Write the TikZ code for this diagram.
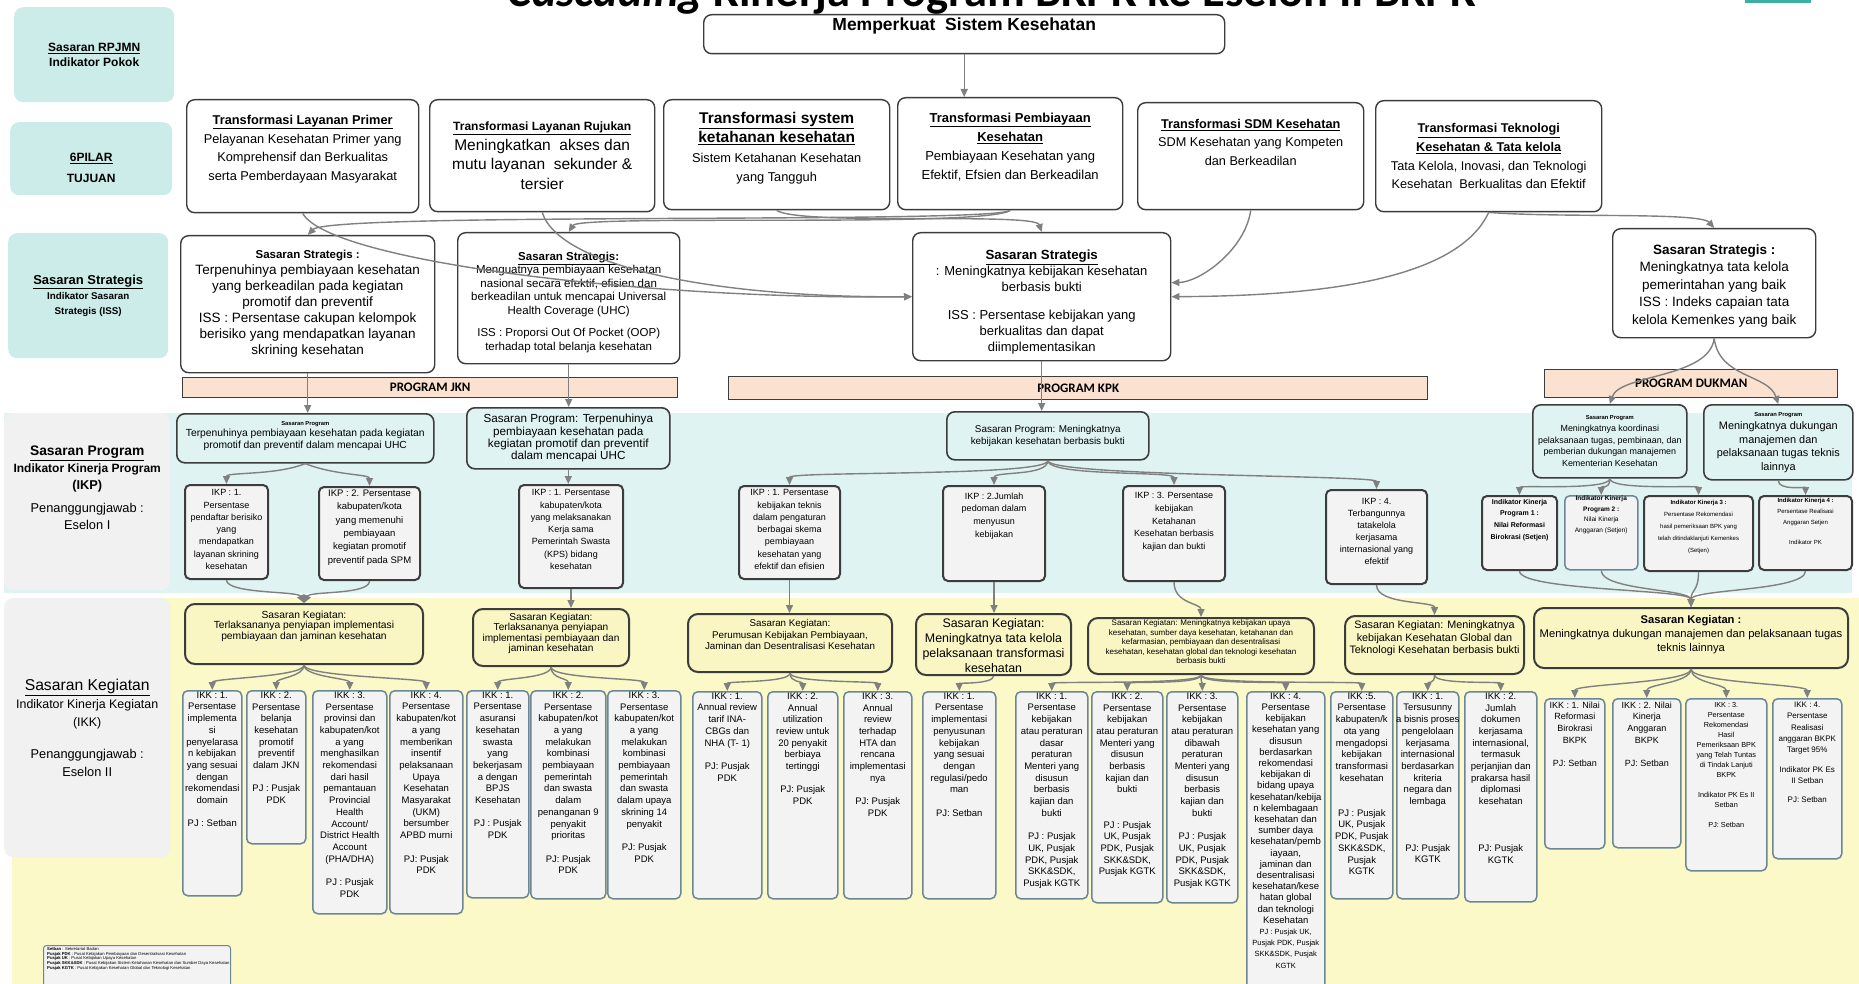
\documentclass[tikz,border=0pt]{standalone}
\usepackage{fontspec}
\setmainfont{Liberation Sans}
\newfontfamily\calib{Carlito}
\usetikzlibrary{arrows.meta}
\definecolor{labteal}{RGB}{204,236,234}
\definecolor{bandteal}{RGB}{224,243,243}
\definecolor{labgrey}{RGB}{241,241,241}
\definecolor{bandyellow}{RGB}{250,249,199}
\definecolor{kegyellow}{RGB}{249,246,196}
\definecolor{peach}{RGB}{251,226,208}
\definecolor{cellgrey}{RGB}{243,243,243}
\definecolor{boxline}{RGB}{60,60,60}
\definecolor{ikkline}{RGB}{108,134,150}
\definecolor{linegrey}{RGB}{128,128,128}
\definecolor{barteal}{RGB}{60,176,160}

\begin{document}
\begin{tikzpicture}[x=1pt,y=-1pt,
    lab/.style={fill=labteal,rounded corners=9pt,anchor=north west,inner sep=0pt},
    greylab/.style={fill=labgrey,rounded corners=9pt,anchor=north west,inner sep=0pt},
    pilar/.style={draw=boxline,line width=1.4pt,fill=white,rounded corners=8pt,anchor=north west,inner sep=0pt},
    prog/.style={draw=boxline,line width=1.4pt,fill=peach,anchor=north west,inner sep=0pt,font=\calib\bfseries\fontsize{13}{14}\selectfont},
    sprog/.style={draw=boxline,line width=1.6pt,fill=bandteal,rounded corners=8pt,anchor=north west,inner sep=0pt},
    ikp/.style={draw=boxline,line width=2pt,fill=cellgrey,rounded corners=5pt,anchor=north west,inner sep=0pt},
    keg/.style={draw=boxline,line width=2pt,fill=kegyellow,rounded corners=10pt,anchor=north west,inner sep=0pt},
    ikk/.style={draw=ikkline,line width=1.5pt,fill=cellgrey,rounded corners=5pt,anchor=north west,inner sep=0pt},
    txt/.style={anchor=center,align=center,inner sep=0pt},
    toptxt/.style={anchor=north,align=center,inner sep=0pt},
    ikpt/.style={toptxt,font=\fontsize{9}{12.3}\selectfont},
    ikkt/.style={toptxt,yshift=-1.5pt,font=\fontsize{9.5}{11.7}\selectfont},
    link/.style={draw=linegrey,line width=1.4pt,-{Triangle[length=8pt,width=7pt]}}
  ]
    \path[use as bounding box,clip] (0,0) rectangle (1859,984);
    \fill[white] (0,0) rectangle (1859,984);

    %judul
    \node[anchor=base,inner sep=0pt,font=\calib\bfseries\fontsize{46.5}{50}\selectfont] (judul) at (992,7) {\textit{Cascading} Kinerja Program BKPK ke Eselon II BKPK};
    \fill[barteal] (1745,0) rectangle (1811,3);

    %pita
    \fill[bandteal] (4,413) rectangle (1852,593);
    \fill[bandyellow] (12,598) rectangle (1859,984);

    %label kiri
    \node[lab,minimum width=160pt,minimum height=95pt] (rpjmn) at (14,7) {};
    \node[txt,font=\bfseries\fontsize{12}{15}\selectfont] (rpjmnt) at (rpjmn.center) {\underline{Sasaran RPJMN}\\Indikator Pokok};
    \node[lab,minimum width=162pt,minimum height=73pt] (pilar) at (10,122) {};
    \node[txt,yshift=-9pt,font=\bfseries\fontsize{12}{21}\selectfont] (pilart) at (pilar.center) {\underline{6PILAR}\\TUJUAN};
    \node[lab,minimum width=160pt,minimum height=125pt] (lblss) at (8,233) {};
    \node[txt,font=\bfseries\fontsize{9.8}{15}\selectfont] (lblsst) at (lblss.center) {{\fontsize{13}{15}\selectfont\underline{Sasaran Strategis}}\\Indikator Sasaran\\Strategis (ISS)};
    \node[greylab,minimum width=166pt,minimum height=177pt] (lblsp) at (4,413) {};
    \node[txt,yshift=14pt,font=\fontsize{12.8}{17}\selectfont] (lblspt) at (lblsp.center) {{\bfseries\fontsize{13.8}{17}\selectfont\underline{Sasaran Program}}\\{\bfseries\fontsize{12}{17}\selectfont Indikator Kinerja Program}\\{\bfseries (IKP)}\\[6pt]Penanggungjawab :\\Eselon I};
    \node[greylab,minimum width=166pt,minimum height=259pt] (lblsk) at (4,598) {};
    \node[txt,font=\fontsize{12.4}{18}\selectfont] (lblskt) at (lblsk.center) {{\fontsize{15.7}{18}\selectfont\underline{Sasaran Kegiatan}}\\Indikator Kinerja Kegiatan\\(IKK)\\[14pt]{\fontsize{12.8}{18}\selectfont Penanggungjawab :}\\{\fontsize{12.8}{18}\selectfont Eselon II}};

    %6 pilar
    \node[pilar,minimum width=521pt,minimum height=39pt] (kuat) at (703,14) {};
    \node[toptxt,yshift=-4pt,font=\bfseries\fontsize{17.5}{20}\selectfont] (kuatt) at (kuat.north) {Memperkuat\ \ Sistem Kesehatan};
    \node[pilar,minimum width=232pt,minimum height=113pt] (primer) at (186,99) {};
    \node[txt,yshift=7pt,font=\fontsize{12.8}{18.7}\selectfont] (primert) at (primer.center) {{\bfseries\underline{Transformasi Layanan Primer}}\\Pelayanan Kesehatan Primer yang\\Komprehensif dan Berkualitas\\serta Pemberdayaan Masyarakat};
    \node[pilar,minimum width=225pt,minimum height=112pt] (rujukan) at (429,99) {};
    \node[txt,font=\fontsize{15.5}{19.5}\selectfont] (rujukant) at (rujukan.center) {{\bfseries\fontsize{12}{19.5}\selectfont\underline{Transformasi Layanan Rujukan}}\\Meningkatkan\ \ akses dan\\mutu layanan\ \ sekunder \&\\tersier};
    \node[pilar,minimum width=226pt,minimum height=110pt] (ketahanan) at (663,99) {};
    \node[txt,yshift=6.5pt,font=\fontsize{12.8}{19.5}\selectfont] (ketahanant) at (ketahanan.center) {{\bfseries\fontsize{15.5}{19.5}\selectfont\underline{Transformasi system}}\\{\bfseries\fontsize{15.5}{19.5}\selectfont\underline{ketahanan kesehatan}}\\Sistem Ketahanan Kesehatan\\yang Tangguh};
    \node[pilar,minimum width=225pt,minimum height=112pt] (pembiayaan) at (897,97) {};
    \node[txt,yshift=6.5pt,font=\fontsize{13}{19}\selectfont] (pembiayaant) at (pembiayaan.center) {{\bfseries\underline{Transformasi Pembiayaan}}\\{\bfseries\underline{Kesehatan}}\\Pembiayaan Kesehatan yang\\Efektif, Efsien dan Berkeadilan};
    \node[pilar,minimum width=226pt,minimum height=107pt] (sdm) at (1137,102) {};
    \node[txt,yshift=14pt,font=\fontsize{12.7}{18.5}\selectfont] (sdmt) at (sdm.center) {{\bfseries\underline{Transformasi SDM Kesehatan}}\\SDM Kesehatan yang Kompeten\\dan Berkeadilan};
    \node[pilar,minimum width=226pt,minimum height=111pt] (teknologi) at (1375,100) {};
    \node[txt,font=\fontsize{12.7}{18.7}\selectfont] (teknologit) at (teknologi.center) {{\bfseries\underline{Transformasi Teknologi}}\\{\bfseries\underline{Kesehatan \& Tata kelola}}\\Tata Kelola, Inovasi, dan Teknologi\\Kesehatan\ \ Berkualitas dan Efektif};

    %sasaran strategis
    \node[pilar,minimum width=254pt,minimum height=137pt] (ss1) at (180,235) {};
    \node[txt,font=\fontsize{13.5}{16}\selectfont] (ss1t) at (ss1.center) {{\bfseries\fontsize{11.5}{16}\selectfont Sasaran Strategis :}\\Terpenuhinya pembiayaan kesehatan\\yang berkeadilan pada kegiatan\\promotif dan preventif\\ISS : Persentase cakupan kelompok\\berisiko yang mendapatkan layanan\\skrining kesehatan};
    \node[pilar,minimum width=222pt,minimum height=131pt] (ss2) at (457,232) {};
    \node[txt,yshift=-4pt,font=\fontsize{11.5}{13.5}\selectfont] (ss2t) at (ss2.center) {{\bfseries\underline{Sasaran Strategis:}}\\Menguatnya pembiayaan kesehatan\\nasional secara efektif, efisien dan\\berkeadilan untuk mencapai Universal\\Health Coverage (UHC)\\[9pt]ISS : Proporsi Out Of Pocket (OOP)\\terhadap total belanja kesehatan};
    \node[pilar,minimum width=258pt,minimum height=128pt] (sskpk) at (912,232) {};
    \node[txt,yshift=-5.5pt,font=\fontsize{13}{16}\selectfont] (sskpkt) at (sskpk.center) {{\bfseries\fontsize{13.3}{16}\selectfont\underline{Sasaran Strategis}}\\: Meningkatnya kebijakan kesehatan\\berbasis bukti\\[12pt]ISS : Persentase kebijakan yang\\berkualitas dan dapat\\diimplementasikan};
    \node[pilar,minimum width=203pt,minimum height=109pt] (ssduk) at (1612,228) {};
    \node[txt,yshift=-2.5pt,font=\fontsize{13.5}{17.5}\selectfont] (ssdukt) at (ssduk.center) {{\bfseries Sasaran Strategis :}\\Meningkatnya tata kelola\\pemerintahan yang baik\\ISS : Indeks capaian tata\\kelola Kemenkes yang baik};

    %program
    \node[prog,minimum width=495pt,minimum height=20pt] (pjkn) at (182,377) {PROGRAM JKN};
    \node[prog,minimum width=699pt,minimum height=23pt] (pkpk) at (728,376) {PROGRAM KPK};
    \node[prog,minimum width=293pt,minimum height=28pt] (pduk) at (1544,369) {PROGRAM DUKMAN};

    %sasaran program
    \node[sprog,minimum width=257pt,minimum height=49pt] (spjkn1) at (176,413) {};
    \node[txt,yshift=2.5pt,font=\fontsize{10.3}{11.3}\selectfont] (spjkn1t) at (spjkn1.center) {{\bfseries\fontsize{5.8}{11.3}\selectfont Sasaran Program}\\Terpenuhinya pembiayaan kesehatan pada kegiatan\\promotif dan preventif dalam mencapai UHC};
    \node[sprog,minimum width=203pt,minimum height=61pt] (spjkn2) at (466,407) {};
    \node[txt,font=\fontsize{11.7}{12.4}\selectfont] (spjkn2t) at (spjkn2.center) {Sasaran Program: Terpenuhinya\\pembiayaan kesehatan pada\\kegiatan promotif dan preventif\\dalam mencapai UHC};
    \node[sprog,minimum width=202pt,minimum height=48pt] (spkpk) at (946,411) {};
    \node[txt,font=\fontsize{9.9}{11.5}\selectfont] (spkpkt) at (spkpk.center) {Sasaran Program: Meningkatnya\\kebijakan kesehatan berbasis bukti};
    \node[sprog,minimum width=154pt,minimum height=73pt] (spduk1) at (1532,404) {};
    \node[txt,font=\fontsize{8.9}{11.7}\selectfont] (spduk1t) at (spduk1.center) {{\bfseries\fontsize{5.8}{11.7}\selectfont Sasaran Program}\\Meningkatnya koordinasi\\pelaksanaan tugas, pembinaan, dan\\pemberian dukungan manajemen\\Kementerian Kesehatan};
    \node[sprog,minimum width=149pt,minimum height=75pt] (spduk2) at (1703,404) {};
    \node[txt,font=\fontsize{10.9}{13.5}\selectfont] (spduk2t) at (spduk2.center) {{\bfseries\fontsize{5.8}{13.5}\selectfont Sasaran Program}\\Meningkatnya dukungan\\manajemen dan\\pelaksanaan tugas teknis\\lainnya};

    %IKP
    \node[ikp,minimum width=83pt,minimum height=94pt] (ikpjkn1) at (184,484) {};
    \node[ikpt,yshift=-5.4pt] (ikpjkn1t) at (ikpjkn1.north) {IKP : 1.\\Persentase\\pendaftar berisiko\\yang\\mendapatkan\\layanan skrining\\kesehatan};
    \node[ikp,minimum width=101pt,minimum height=93pt] (ikpjkn2) at (318,486) {};
    \node[ikpt,yshift=-3.4pt,font=\fontsize{9.5}{13.4}\selectfont] (ikpjkn2t) at (ikpjkn2.north) {IKP : 2. Persentase\\kabupaten/kota\\yang memenuhi\\pembiayaan\\kegiatan promotif\\preventif pada SPM};
    \node[ikp,minimum width=104pt,minimum height=103pt] (ikpjkn3) at (518,484) {};
    \node[ikpt,yshift=-5.4pt] (ikpjkn3t) at (ikpjkn3.north) {IKP : 1. Persentase\\kabupaten/kota\\yang melaksanakan\\Kerja sama\\Pemerintah Swasta\\(KPS) bidang\\kesehatan};
    \node[ikp,minimum width=101pt,minimum height=93pt] (ikpkpk1) at (738,485) {};
    \node[ikpt,yshift=-4.4pt] (ikpkpk1t) at (ikpkpk1.north) {IKP : 1. Persentase\\kebijakan teknis\\dalam pengaturan\\berbagai skema\\pembiayaan\\kesehatan yang\\efektif dan efisien};
    \node[ikp,minimum width=102pt,minimum height=95pt] (ikpkpk2) at (942,485) {};
    \node[ikpt,yshift=-7.4pt,font=\fontsize{9}{12.7}\selectfont] (ikpkpk2t) at (ikpkpk2.north) {IKP : 2.Jumlah\\pedoman dalam\\menyusun\\kebijakan};
    \node[ikp,minimum width=102pt,minimum height=95pt] (ikpkpk3) at (1122,485) {};
    \node[ikpt,yshift=-7.4pt,font=\fontsize{9}{12.7}\selectfont] (ikpkpk3t) at (ikpkpk3.north) {IKP : 3. Persentase\\kebijakan\\Ketahanan\\Kesehatan berbasis\\kajian dan bukti};
    \node[ikp,minimum width=101pt,minimum height=94pt] (ikpkpk4) at (1325,489) {};
    \node[ikpt,yshift=-9.4pt,font=\fontsize{9}{12}\selectfont] (ikpkpk4t) at (ikpkpk4.north) {IKP : 4.\\Terbangunnya\\tatakelola\\kerjasama\\internasional yang\\efektif};
    \node[ikp,minimum width=75pt,minimum height=74pt] (ikpduk1) at (1481,495) {};
    \node[ikpt,yshift=-4pt,font=\fontsize{7}{11.7}\selectfont] (ikpduk1t) at (ikpduk1.north) {\textbf{Indikator Kinerja}\\\textbf{Program 1 :}\\\textbf{Nilai Reformasi}\\\textbf{Birokrasi (Setjen)}};
    \node[ikp,draw=ikkline,line width=1.5pt,minimum width=73pt,minimum height=74pt] (ikpduk2) at (1564,495) {};
    \node[ikpt,yshift=-1pt,font=\fontsize{6.5}{10.5}\selectfont] (ikpduk2t) at (ikpduk2.north) {\textbf{Indikator Kinerja}\\\textbf{Program 2 :}\\Nilai Kinerja\\Anggaran (Setjen)};
    \node[ikp,minimum width=109pt,minimum height=75pt] (ikpduk3) at (1643,495) {};
    \node[ikpt,yshift=-4.6pt,font=\fontsize{6}{12}\selectfont] (ikpduk3t) at (ikpduk3.north) {\textbf{Indikator Kinerja 3 :}\\Persentase Rekomendasi\\hasil pemeriksaan BPK yang\\telah ditindaklanjuti Kemenkes\\(Setjen)};
    \node[ikp,minimum width=93pt,minimum height=74pt] (ikpduk4) at (1758,495) {};
    \node[ikpt,yshift=-2.6pt,font=\fontsize{6}{11}\selectfont] (ikpduk4t) at (ikpduk4.north) {\textbf{Indikator Kinerja 4 :}\\Persentase Realisasi\\Anggaran Setjen\\[9pt]Indikator PK};

    %sasaran kegiatan
    \node[keg,minimum width=238pt,minimum height=60pt] (skjkn1) at (184,603) {};
    \node[txt,yshift=8pt,font=\fontsize{10.3}{10.5}\selectfont] (skjkn1t) at (skjkn1.center) {Sasaran Kegiatan:\\Terlaksananya penyiapan implementasi\\pembiayaan dan jaminan kesehatan};
    \node[keg,minimum width=156pt,minimum height=57pt] (skjkn2) at (472,608) {};
    \node[txt,yshift=4pt,font=\fontsize{10.1}{10.5}\selectfont] (skjkn2t) at (skjkn2.center) {Sasaran Kegiatan:\\Terlaksananya penyiapan\\implementasi pembiayaan dan\\jaminan kesehatan};
    \node[keg,minimum width=204pt,minimum height=58pt] (skkpk1) at (687,613) {};
    \node[txt,yshift=8.5pt,font=\fontsize{9.8}{11.7}\selectfont] (skkpk1t) at (skkpk1.center) {Sasaran Kegiatan:\\Perumusan Kebijakan Pembiayaan,\\Jaminan dan Desentralisasi Kesehatan};
    \node[keg,minimum width=155pt,minimum height=61pt] (skkpk2) at (915,613) {};
    \node[txt,yshift=-1.5pt,font=\fontsize{12.4}{15}\selectfont] (skkpk2t) at (skkpk2.center) {Sasaran Kegiatan:\\Meningkatnya tata kelola\\pelaksanaan transformasi\\kesehatan};
    \node[keg,minimum width=226pt,minimum height=56pt] (skkpk3) at (1087,617) {};
    \node[txt,yshift=4pt,font=\fontsize{8}{9.5}\selectfont] (skkpk3t) at (skkpk3.center) {Sasaran Kegiatan: Meningkatnya kebijakan upaya\\kesehatan, sumber daya kesehatan, ketahanan dan\\kefarmasian, pembiayaan dan desentralisasi\\kesehatan, kesehatan global dan teknologi kesehatan\\berbasis bukti};
    \node[keg,minimum width=179pt,minimum height=58pt] (skkpk4) at (1344,615) {};
    \node[txt,yshift=6.5pt,font=\fontsize{10.8}{12.5}\selectfont] (skkpk4t) at (skkpk4.center) {Sasaran Kegiatan: Meningkatnya\\kebijakan Kesehatan Global dan\\Teknologi Kesehatan berbasis bukti};
    \node[keg,minimum width=314pt,minimum height=60pt] (skduk) at (1533,607) {};
    \node[txt,yshift=3pt,font=\fontsize{11.2}{14}\selectfont] (skdukt) at (skduk.center) {{\bfseries Sasaran Kegiatan :}\\Meningkatnya dukungan manajemen dan pelaksanaan tugas\\teknis lainnya};

    %IKK program JKN
    \node[ikk,minimum width=59pt,minimum height=205pt] (k11) at (182,690) {};
    \node[ikkt] (k11t) at (k11.north) {IKK : 1.\\Persentase\\implementa\\si\\penyelarasa\\n kebijakan\\yang sesuai\\dengan\\rekomendasi\\domain\\[11.7pt]PJ : Setban};
    \node[ikk,minimum width=59pt,minimum height=153pt] (k12) at (246,690) {};
    \node[ikkt] (k12t) at (k12.north) {IKK : 2.\\Persentase\\belanja\\kesehatan\\promotif\\preventif\\dalam JKN\\[11.7pt]PJ : Pusjak\\PDK};
    \node[ikk,minimum width=74pt,minimum height=223pt] (k13) at (312,690) {};
    \node[ikkt] (k13t) at (k13.north) {IKK : 3.\\Persentase\\provinsi dan\\kabupaten/kot\\a yang\\menghasilkan\\rekomendasi\\dari hasil\\pemantauan\\Provincial\\Health\\Account/\\District Health\\Account\\(PHA/DHA)\\[11.7pt]PJ : Pusjak\\PDK};
    \node[ikk,minimum width=73pt,minimum height=223pt] (k14) at (389,690) {};
    \node[ikkt] (k14t) at (k14.north) {IKK : 4.\\Persentase\\kabupaten/kot\\a yang\\memberikan\\insentif\\pelaksanaan\\Upaya\\Kesehatan\\Masyarakat\\(UKM)\\bersumber\\APBD murni\\[11.7pt]PJ: Pusjak\\PDK};
    \node[ikk,minimum width=62pt,minimum height=207pt] (k21) at (466,690) {};
    \node[ikkt] (k21t) at (k21.north) {IKK : 1.\\Persentase\\asuransi\\kesehatan\\swasta\\yang\\bekerjasam\\a dengan\\BPJS\\Kesehatan\\[11.7pt]PJ : Pusjak\\PDK};
    \node[ikk,minimum width=75pt,minimum height=208pt] (k22) at (530,690) {};
    \node[ikkt] (k22t) at (k22.north) {IKK : 2.\\Persentase\\kabupaten/kot\\a yang\\melakukan\\kombinasi\\pembiayaan\\pemerintah\\dan swasta\\dalam\\penanganan 9\\penyakit\\prioritas\\[11.7pt]PJ: Pusjak\\PDK};
    \node[ikk,minimum width=73pt,minimum height=208pt] (k23) at (607,690) {};
    \node[ikkt] (k23t) at (k23.north) {IKK : 3.\\Persentase\\kabupaten/kot\\a yang\\melakukan\\kombinasi\\pembiayaan\\pemerintah\\dan swasta\\dalam upaya\\skrining 14\\penyakit\\[11.7pt]PJ: Pusjak\\PDK};

    %IKK program KPK
    \node[ikk,minimum width=69pt,minimum height=207pt] (k31) at (692,691) {};
    \node[ikkt] (k31t) at (k31.north) {IKK : 1.\\Annual review\\tarif INA-\\CBGs dan\\NHA (T- 1)\\[11.7pt]PJ: Pusjak\\PDK};
    \node[ikk,minimum width=70pt,minimum height=207pt] (k32) at (767,691) {};
    \node[ikkt] (k32t) at (k32.north) {IKK : 2.\\Annual\\utilization\\review untuk\\20 penyakit\\berbiaya\\tertinggi\\[11.7pt]PJ: Pusjak\\PDK};
    \node[ikk,minimum width=68pt,minimum height=207pt] (k33) at (843,691) {};
    \node[ikkt] (k33t) at (k33.north) {IKK : 3.\\Annual\\review\\terhadap\\HTA dan\\rencana\\implementasi\\nya\\[11.7pt]PJ: Pusjak\\PDK};
    \node[ikk,minimum width=73pt,minimum height=207pt] (k41) at (922,691) {};
    \node[ikkt] (k41t) at (k41.north) {IKK : 1.\\Persentase\\implementasi\\penyusunan\\kebijakan\\yang sesuai\\dengan\\regulasi/pedo\\man\\[11.7pt]PJ: Setban};
    \node[ikk,minimum width=72pt,minimum height=207pt] (k51) at (1015,691) {};
    \node[ikkt] (k51t) at (k51.north) {IKK : 1.\\Persentase\\kebijakan\\atau peraturan\\dasar\\peraturan\\Menteri yang\\disusun\\berbasis\\kajian dan\\bukti\\[11.7pt]PJ : Pusjak\\UK, Pusjak\\PDK, Pusjak\\SKK\&SDK,\\Pusjak KGTK};
    \node[ikk,minimum width=71pt,minimum height=211pt] (k52) at (1091,691) {};
    \node[ikkt] (k52t) at (k52.north) {IKK : 2.\\Persentase\\kebijakan\\atau peraturan\\Menteri yang\\disusun\\berbasis\\kajian dan\\bukti\\[23.4pt]PJ : Pusjak\\UK, Pusjak\\PDK, Pusjak\\SKK\&SDK,\\Pusjak KGTK};
    \node[ikk,minimum width=71pt,minimum height=211pt] (k53) at (1166,691) {};
    \node[ikkt] (k53t) at (k53.north) {IKK : 3.\\Persentase\\kebijakan\\atau peraturan\\dibawah\\peraturan\\Menteri yang\\disusun\\berbasis\\kajian dan\\bukti\\[11.7pt]PJ : Pusjak\\UK, Pusjak\\PDK, Pusjak\\SKK\&SDK,\\Pusjak KGTK};
    \node[ikk,minimum width=78pt,minimum height=310pt] (k54) at (1246,691) {};
    \node[ikkt,font=\fontsize{9.5}{11.2}\selectfont] (k54t) at (k54.north) {IKK : 4.\\Persentase\\kebijakan\\kesehatan yang\\disusun\\berdasarkan\\rekomendasi\\kebijakan di\\bidang upaya\\kesehatan/kebija\\n kelembagaan\\kesehatan dan\\sumber daya\\kesehatan/pemb\\iayaan,\\jaminan dan\\desentralisasi\\kesehatan/kese\\hatan global\\dan teknologi\\Kesehatan\\[0pt]{\fontsize{7.5}{9}\selectfont PJ : Pusjak UK,}\\{\fontsize{7.5}{9}\selectfont Pusjak PDK, Pusjak}\\{\fontsize{7.5}{9}\selectfont SKK\&SDK, Pusjak}\\{\fontsize{7.5}{9}\selectfont KGTK}};
    \node[ikk,minimum width=62pt,minimum height=207pt] (k55) at (1330,691) {};
    \node[ikkt] (k55t) at (k55.north) {IKK :5.\\Persentase\\kabupaten/k\\ota yang\\mengadopsi\\kebijakan\\transformasi\\kesehatan\\[23.4pt]PJ : Pusjak\\UK, Pusjak\\PDK, Pusjak\\SKK\&SDK,\\Pusjak\\KGTK};
    \node[ikk,minimum width=62pt,minimum height=207pt] (k61) at (1396,691) {};
    \node[ikkt] (k61t) at (k61.north) {IKK : 1.\\Tersusunny\\a bisnis proses\\pengelolaan\\kerjasama\\internasional\\berdasarkan\\kriteria\\negara dan\\lembaga\\[35pt]PJ: Pusjak\\KGTK};
    \node[ikk,minimum width=72pt,minimum height=210pt] (k62) at (1464,691) {};
    \node[ikkt] (k62t) at (k62.north) {IKK : 2.\\Jumlah\\dokumen\\kerjasama\\internasional,\\termasuk\\perjanjian dan\\prakarsa hasil\\diplomasi\\kesehatan\\[35pt]PJ: Pusjak\\KGTK};

    %IKK program DUKMAN
    \node[ikk,minimum width=60pt,minimum height=150pt] (k71) at (1544,698) {};
    \node[ikkt,yshift=-2pt,font=\fontsize{9}{11.7}\selectfont] (k71t) at (k71.north) {IKK : 1. Nilai\\Reformasi\\Birokrasi\\BKPK\\[11.7pt]PJ: Setban};
    \node[ikk,minimum width=68pt,minimum height=149pt] (k72) at (1612,698) {};
    \node[ikkt,yshift=-2pt,font=\fontsize{9}{11.7}\selectfont] (k72t) at (k72.north) {IKK : 2. Nilai\\Kinerja\\Anggaran\\BKPK\\[11.7pt]PJ: Setban};
    \node[ikk,minimum width=81pt,minimum height=172pt] (k73) at (1685,698) {};
    \node[ikkt,yshift=-2.6pt,font=\fontsize{7.3}{10}\selectfont] (k73t) at (k73.north) {IKK : 3.\\Persentase\\Rekomendasi\\Hasil\\Pemeriksaan BPK\\yang Telah Tuntas\\di Tindak Lanjuti\\BKPK\\[10pt]Indikator PK Es II\\Setban\\[10pt]PJ: Setban};
    \node[ikk,minimum width=69pt,minimum height=160pt] (k74) at (1772,698) {};
    \node[ikkt,yshift=-2.3pt,font=\fontsize{8}{11.3}\selectfont] (k74t) at (k74.north) {IKK : 4.\\Persentase\\Realisasi\\anggaran BKPK\\Target 95\%\\[8pt]Indikator PK Es\\II Setban\\[8pt]PJ: Setban};

    %keterangan
    \node[ikk,line width=1pt,rounded corners=3pt,minimum width=187pt,minimum height=50pt] (ket) at (43,945) {};
    \node[anchor=north west,align=left,inner sep=0pt,font=\fontsize{4.2}{4.8}\selectfont] (kett) at ([xshift=4pt,yshift=-2pt]ket.north west) {\textbf{Setban} : Sekretariat Badan\\\textbf{Pusjak PDK} : Pusat Kebijakan Pembiayaan dan Desentralisasi Kesehatan\\\textbf{Pusjak UK} : Pusat Kebijakan Upaya Kesehatan\\\textbf{Pusjak SKK\&SDK} : Pusat Kebijakan Sistem Ketahanan Kesehatan dan Sumber Daya Kesehatan\\\textbf{Pusjak KGTK} : Pusat Kebijakan Kesehatan Global dan Teknologi Kesehatan};

    %panah pilar ke sasaran strategis
    \draw[link] (kuat.south) -- (kuat.south |- pembiayaan.north);
    \draw[link] (pembiayaan.south) .. controls (990,224) and (330,212) .. (ss1.north);
    \draw[link] (pembiayaan.south) .. controls (985,228) and (580,214) .. (ss2.north);
    \draw[link] (ketahanan.south) .. controls (800,226) and (1035,212) .. (sskpk.north);
    \draw[link] (primer.south) .. controls (330,262) and (650,300) .. (sskpk.west);
    \draw[link] (rujukan.south) .. controls (560,268) and (720,298) .. (sskpk.west);
    \draw[link] (sdm.south) .. controls (1245,250) and (1200,282) .. ([yshift=14pt]sskpk.east);
    \draw[link] (teknologi.south) .. controls (1455,285) and (1300,296) .. (sskpk.east);
    \draw[link] (teknologi.south) .. controls (1560,218) and (1700,212) .. (ssduk.north);

    %panah sasaran strategis ke sasaran program
    \draw[link] (ss1.south) -- (ss1.south |- spjkn1.north);
    \draw[link] (ss2.south) -- (ss2.south |- spjkn2.north);
    \draw[link] (sskpk.south) -- (sskpk.south |- spkpk.north);
    \draw[link] (ssduk.south) .. controls +(-5,40) and +(10,-30) .. (spduk1.north);
    \draw[link] (ssduk.south) .. controls +(5,40) and +(-10,-30) .. (spduk2.north);

    %panah sasaran program ke IKP
    \draw[link] (spjkn1.south) .. controls +(-30,12) and +(0,-12) .. (ikpjkn1.north);
    \draw[link] (spjkn1.south) .. controls +(30,12) and +(0,-12) .. (ikpjkn2.north);
    \draw[link] (spjkn2.south) -- (spjkn2.south |- ikpjkn3.north);
    \draw[link] (spkpk.south) .. controls +(0,16) and +(0,-14) .. (ikpkpk1.north);
    \draw[link] (spkpk.south) .. controls +(0,16) and +(0,-14) .. (ikpkpk2.north);
    \draw[link] (spkpk.south) .. controls +(0,16) and +(0,-14) .. (ikpkpk3.north);
    \draw[link] (spkpk.south) .. controls +(0,16) and +(0,-14) .. (ikpkpk4.north);
    \draw[link] (spduk1.south) .. controls +(0,12) and +(0,-10) .. (ikpduk1.north);
    \draw[link] (spduk1.south) .. controls +(0,12) and +(0,-10) .. (ikpduk2.north);
    \draw[link] (spduk1.south) .. controls +(0,12) and +(0,-10) .. (ikpduk3.north);
    \draw[link] (spduk2.south) .. controls +(0,10) and +(0,-8) .. (ikpduk4.north);

    %panah IKP ke sasaran kegiatan
    \draw[link] (ikpjkn1.south) .. controls +(0,14) and +(-6,-12) .. (skjkn1.north);
    \draw[link] (ikpjkn2.south) .. controls +(0,14) and +(6,-12) .. (skjkn1.north);
    \draw[link] (ikpjkn3.south) -- (ikpjkn3.south |- skjkn2.north);
    \draw[link] (ikpkpk1.south) -- (ikpkpk1.south |- skkpk1.north);
    \draw[link] (ikpkpk2.south) -- (ikpkpk2.south |- skkpk2.north);
    \draw[link] (ikpkpk3.south) .. controls +(0,22) and +(0,-14) .. (skkpk3.north);
    \draw[link] (ikpkpk4.south) .. controls +(0,20) and +(0,-14) .. (skkpk4.north);
    \draw[link] (ikpduk1.south) .. controls +(0,20) and +(0,-18) .. (skduk.north);
    \draw[link] (ikpduk2.south) .. controls +(0,20) and +(0,-18) .. (skduk.north);
    \draw[link] (ikpduk3.south) .. controls +(0,20) and +(0,-18) .. (skduk.north);
    \draw[link] (ikpduk4.south) .. controls +(0,20) and +(0,-18) .. (skduk.north);

    %panah sasaran kegiatan ke IKK
    \draw[link] (skjkn1.south) .. controls +(0,12) and +(0,-12) .. (k11.north);
    \draw[link] (skjkn1.south) .. controls +(0,12) and +(0,-12) .. (k12.north);
    \draw[link] (skjkn1.south) .. controls +(0,12) and +(0,-12) .. (k13.north);
    \draw[link] (skjkn1.south) .. controls +(0,12) and +(0,-12) .. (k14.north);
    \draw[link] (skjkn2.south) .. controls +(0,12) and +(0,-12) .. (k21.north);
    \draw[link] (skjkn2.south) .. controls +(0,12) and +(0,-12) .. (k22.north);
    \draw[link] (skjkn2.south) .. controls +(0,12) and +(0,-12) .. (k23.north);
    \draw[link] (skkpk1.south) .. controls +(0,10) and +(0,-10) .. (k31.north);
    \draw[link] (skkpk1.south) .. controls +(0,10) and +(0,-10) .. (k32.north);
    \draw[link] (skkpk1.south) .. controls +(0,10) and +(0,-10) .. (k33.north);
    \draw[link] (skkpk2.south) .. controls +(0,8) and +(0,-8) .. (k41.north);
    \draw[link] (skkpk3.south) .. controls +(0,10) and +(0,-10) .. (k51.north);
    \draw[link] (skkpk3.south) .. controls +(0,10) and +(0,-10) .. (k52.north);
    \draw[link] (skkpk3.south) .. controls +(0,10) and +(0,-10) .. (k53.north);
    \draw[link] (skkpk3.south) .. controls +(0,10) and +(0,-10) .. (k54.north);
    \draw[link] (skkpk3.south) .. controls +(0,10) and +(0,-10) .. (k55.north);
    \draw[link] (skkpk4.south) .. controls +(0,10) and +(0,-10) .. (k61.north);
    \draw[link] (skkpk4.south) .. controls +(0,10) and +(0,-10) .. (k62.north);
    \draw[link] (skduk.south) .. controls +(0,14) and +(0,-14) .. (k71.north);
    \draw[link] (skduk.south) .. controls +(0,14) and +(0,-14) .. (k72.north);
    \draw[link] (skduk.south) .. controls +(0,14) and +(0,-14) .. (k73.north);
    \draw[link] (skduk.south) .. controls +(0,14) and +(0,-14) .. (k74.north);
\end{tikzpicture}
\end{document}
